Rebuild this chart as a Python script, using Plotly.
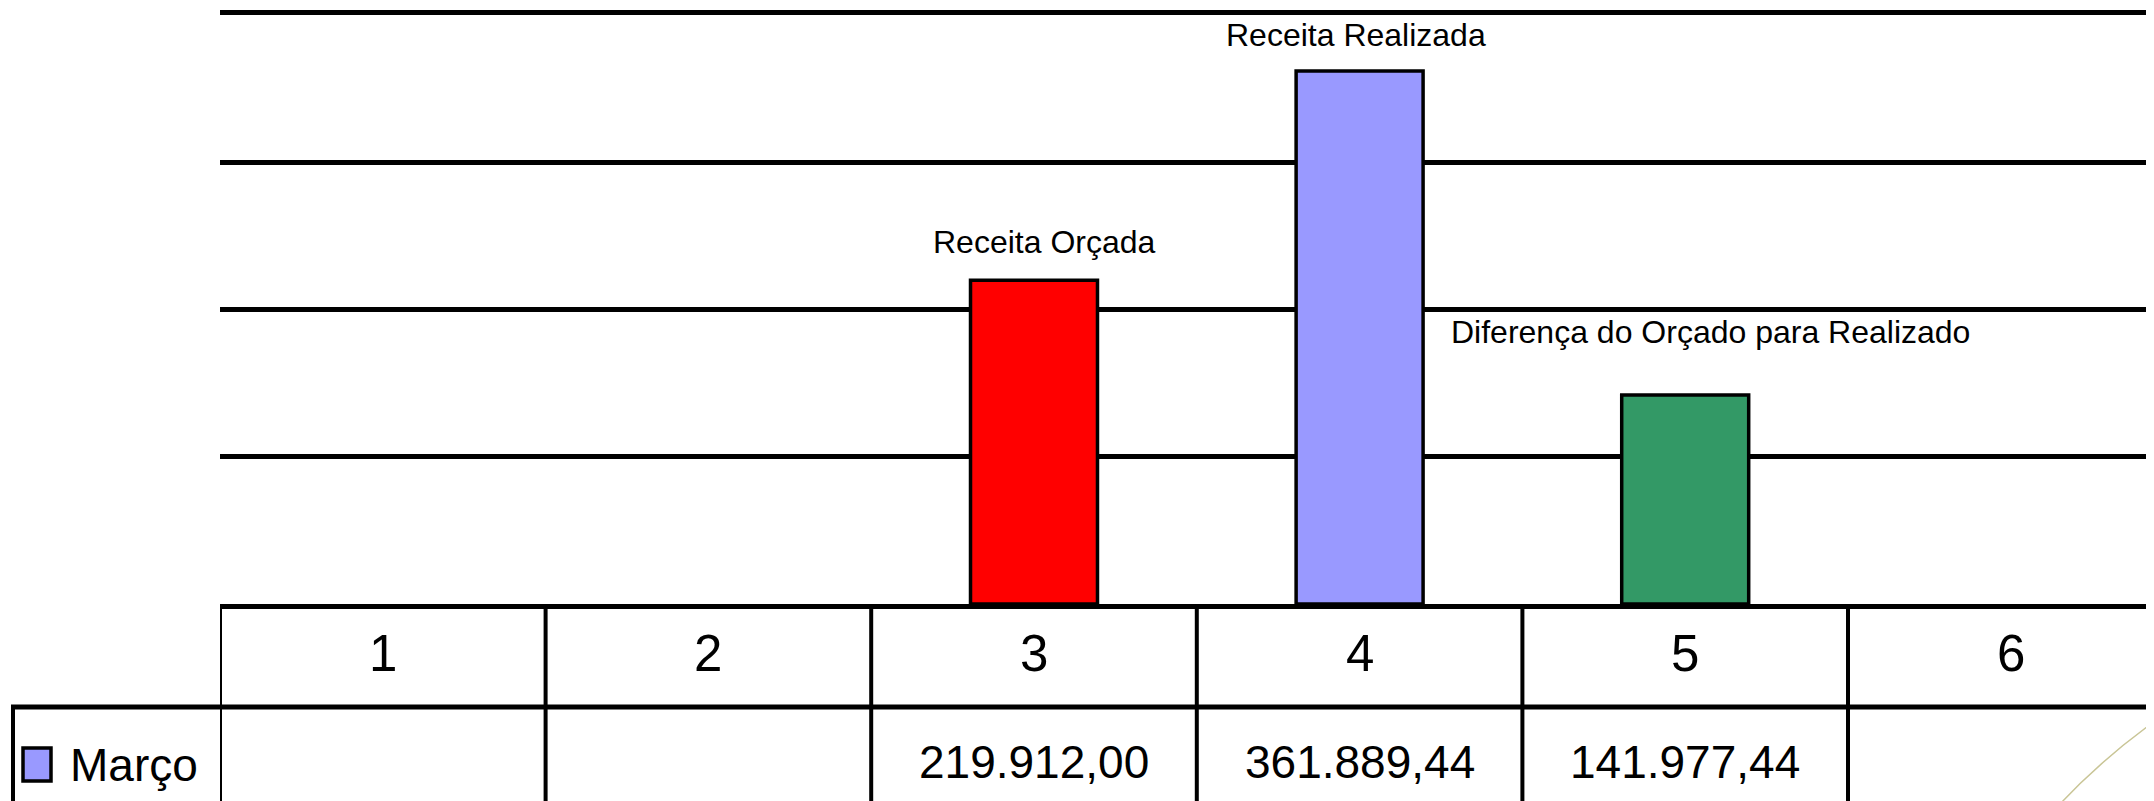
import plotly.graph_objects as go

# ---------------- data ----------------
categories = [1, 2, 3, 4, 5, 6]
series_name = "Março"
values = [None, None, 219912.00, 361889.44, 141977.44, None]
bar_labels = ["", "", "Receita Orçada", "Receita Realizada",
              "Diferença do Orçado para Realizado", ""]
bar_colors = ["#9999FF", "#9999FF", "#FF0000", "#9999FF", "#339966", "#9999FF"]
y_ticks = [0, 100000, 200000, 300000, 400000]


def fmt_br(v):
    if v is None:
        return ""
    s = f"{v:,.2f}"
    return s.replace(",", "X").replace(".", ",").replace("X", ".")


value_labels = [fmt_br(v) for v in values]

# ---------------- layout geometry ----------------
OFF = 8                      # page body margin of the html page
W, H = 2154, 801
ML, MR = 220 - OFF, 0
MT = 15 - OFF
MB = H - (604 - OFF)
PW = W - ML - MR
PH = H - MT - MB
COL = 325.6                  # pixel width of one category column
FONT = "Arial, Liberation Sans, sans-serif"


def px_x(px):
    """page pixel x -> paper coordinate"""
    return (px - OFF - ML) / PW


def px_y(py):
    """page pixel y -> paper coordinate"""
    return (H - MB - (py - OFF)) / PH


fig = go.Figure()
fig.add_trace(go.Bar(
    x=categories, y=values, name=series_name,
    width=0.39,
    marker=dict(color=bar_colors, line=dict(color="black", width=3.5)),
    showlegend=False, hoverinfo="skip",
))

# labels above bars (offsets in pixels)
label_offsets = {3: (10, 38), 4: (-4, 36), 5: (25, 63)}
for c, v, lab in zip(categories, values, bar_labels):
    if v is None or not lab:
        continue
    dx, dy = label_offsets.get(c, (0, 30))
    fig.add_annotation(x=c, y=v, xref="x", yref="y", text=lab, showarrow=False,
                       xanchor="center", yanchor="middle", xshift=dx, yshift=dy,
                       font=dict(family=FONT, size=32, color="black"))

shapes = []
HLW = 5   # horizontal table lines
VLW = 4   # vertical table lines
row1_top = px_y(605)
row2_top = px_y(707)
bottom = px_y(840)
# row divider
shapes.append(dict(type="line", xref="paper", yref="paper", x0=px_x(11), x1=1.0,
                   y0=row2_top, y1=row2_top, line=dict(color="black", width=HLW)))
# left border of the value row
shapes.append(dict(type="line", xref="paper", yref="paper", x0=px_x(13), x1=px_x(13),
                   y0=row2_top, y1=bottom, line=dict(color="black", width=VLW)))
# column separators
for c in categories:
    xb = c - 0.5
    shapes.append(dict(type="line", xref="x", yref="paper", x0=xb, x1=xb,
                       y0=row1_top, y1=bottom, line=dict(color="black", width=VLW)))
# legend key
shapes.append(dict(type="rect", xref="paper", yref="paper",
                   x0=px_x(23), x1=px_x(51), y0=px_y(748), y1=px_y(781),
                   fillcolor="#9999FF", line=dict(color="black", width=3.5)))
# decorative arc in the corner
shapes.append(dict(type="path", xref="paper", yref="paper",
                   path=f"M {px_x(2158)},{px_y(719)} Q {px_x(2104)},{px_y(757)} {px_x(2058)},{px_y(806)}",
                   line=dict(color="#C9C596", width=1.5)))

# header row: category numbers
for c in categories:
    fig.add_annotation(x=c, y=px_y(653), xref="x", yref="paper", text=str(c),
                       showarrow=False, xanchor="center", yanchor="middle",
                       font=dict(family=FONT, size=51, color="black"))
# value row
for c, t in zip(categories, value_labels):
    if t:
        fig.add_annotation(x=c, y=px_y(762), xref="x", yref="paper", text=t,
                           showarrow=False, xanchor="center", yanchor="middle",
                           font=dict(family=FONT, size=46, color="black"))
# legend text
fig.add_annotation(x=px_x(68), y=px_y(765), xref="paper", yref="paper", text=series_name,
                   showarrow=False, xanchor="left", yanchor="middle",
                   font=dict(family=FONT, size=46, color="black"))

fig.update_layout(
    width=W, height=H, autosize=False,
    margin=dict(l=ML, r=MR, t=MT, b=MB, pad=0),
    paper_bgcolor="white", plot_bgcolor="white",
    shapes=shapes, bargap=0.6,
    xaxis=dict(range=[0.5, 0.5 + PW / COL], showticklabels=False, ticks="",
               showgrid=False, zeroline=False, showline=True, mirror=True,
               linecolor="black", linewidth=HLW, fixedrange=True),
    yaxis=dict(range=[0, 400000], tickvals=y_ticks, showticklabels=False, ticks="",
               showgrid=True, gridcolor="black", gridwidth=HLW, zeroline=False,
               showline=False, fixedrange=True),
)

fig.write_html("out.html")
